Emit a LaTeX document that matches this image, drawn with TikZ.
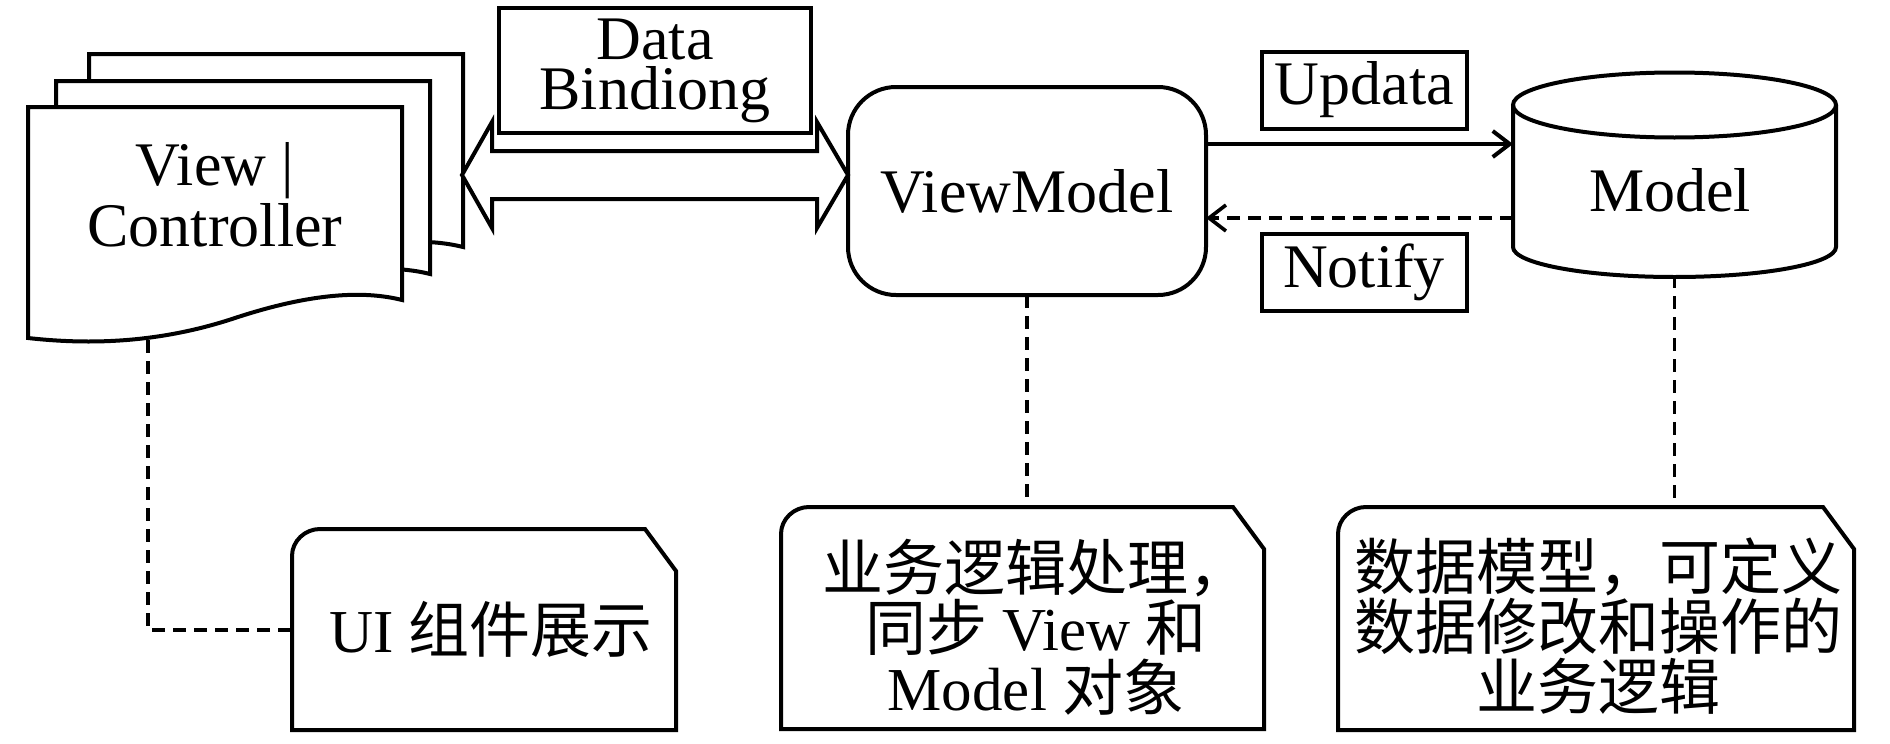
\documentclass[tikz,border=0pt]{standalone}
\usepackage{fontspec}
\setmainfont{Liberation Serif}
\newfontfamily\cjk{Noto Sans CJK SC}
\usetikzlibrary{arrows.meta,calc}
\newcommand\notebox[4]{%
  \draw[notebox] (#1,#4) -- (#1,#2+27) .. controls (#1,#2+12) and (#1+13,#2) .. (#1+28,#2)
    -- (#3-31,#2) -- (#3,#2+42) -- (#3,#4) -- cycle;}
\begin{document}
\begin{tikzpicture}[x=1pt,y=-1pt,
  line width=4pt,
  every node/.style={inner sep=0pt, outer sep=0pt},
  txt/.style={font=\fontsize{62pt}{61pt}\selectfont, align=center},
  notetxt/.style={font=\fontsize{61pt}{60pt}\selectfont, align=center},
  lbl/.style={draw, minimum width=205pt, minimum height=77pt, font=\fontsize{62pt}{62pt}\selectfont},
  page/.style={draw, fill=white, line join=miter},
  fat/.style={draw, fill=white, line join=miter},
  flow/.style={-{Straight Barb[length=17pt,width=26pt]}},
  dashline/.style={line width=3.6pt, dash pattern=on 13pt off 8pt},
  notebox/.style={draw, fill=white, line join=miter},
]
\useasboundingbox (0,0) rectangle (1890,744);

% stacked document pages (View | Controller)
\foreach \dx/\dy in {61/-53, 28/-26, 0/0} {
  \draw[page, shift={(\dx,\dy)}] (28,107) -- (402,107) -- (402,300)
    .. controls (370,292) and (320,290) .. (235,318)
    .. controls (160,343) and (90,345) .. (28,338) -- cycle;
}
\node[txt] (vc) at (215,195) {View |\\Controller};
\coordinate (docbot) at (148,340);

% data binding double arrow
\draw[fat] (462,175) -- (492,122) -- (492,151) -- (817,151) -- (817,122) -- (848,175)
  -- (817,228) -- (817,199) -- (492,199) -- (492,228) -- cycle;
\node[draw, minimum width=312pt, minimum height=125pt, align=center,
      font=\fontsize{62pt}{50pt}\selectfont] (bind) at (655,70.5) {Data\\Bindiong};

% ViewModel
\node[draw, rounded corners=48pt, minimum width=358pt, minimum height=208pt, txt] (vm) at (1027,191) {ViewModel};

% Model cylinder
\node[minimum width=323pt, minimum height=202pt] (model) at (1674.5,174) {};
\draw (1513,105) -- (1513,247)
  .. controls (1513,263.6) and (1585.3,277) .. (1674.5,277)
  .. controls (1763.7,277) and (1836,263.6) .. (1836,247) -- (1836,105);
\draw (1513,105) .. controls (1513,87.05) and (1585.3,72.5) .. (1674.5,72.5)
  .. controls (1763.7,72.5) and (1836,87.05) .. (1836,105)
  .. controls (1836,122.95) and (1763.7,137.5) .. (1674.5,137.5)
  .. controls (1585.3,137.5) and (1513,122.95) .. (1513,105) -- cycle;
\node[txt] (modeltxt) at (1670,190) {Model};

% Updata / Notify
\node[lbl] (upd) at (1364.5,90) {Updata};
\node[lbl] (ntf) at (1364,272) {\raisebox{-5pt}{Notify}};
\draw[flow] (vm.east |- 0,144) -- (model.west |- 0,144);
\draw[flow, dashline] (model.west |- 0,218) -- (vm.east |- 0,218);

% annotation boxes
\notebox{292}{529}{676}{730}
\coordinate (uiedge) at (292,630);
\node[notetxt] (uinote) at (491,629) {UI {\cjk 组件展示}};

\notebox{781}{507}{1264}{729}
\coordinate (vmtop) at (1027,507);
\node[notetxt] (vmnote) at (1036,627) {{\cjk 业务逻辑处理，}\\{\cjk 同步} View {\cjk 和}\\Model {\cjk 对象}};

\notebox{1338}{507}{1854}{730}
\coordinate (mdtop) at (1674.5,507);
\node[notetxt] (mdnote) at (1598,626) {{\cjk 数据模型，可定义}\\{\cjk 数据修改和操作的}\\{\cjk 业务逻辑}};

% dashed leaders
\draw[dashline] (docbot) |- (uiedge);
\draw[dashline] (vm.south) -- (vmtop);
\draw[dashline] (model.south) -- (mdtop);
\end{tikzpicture}
\end{document}
